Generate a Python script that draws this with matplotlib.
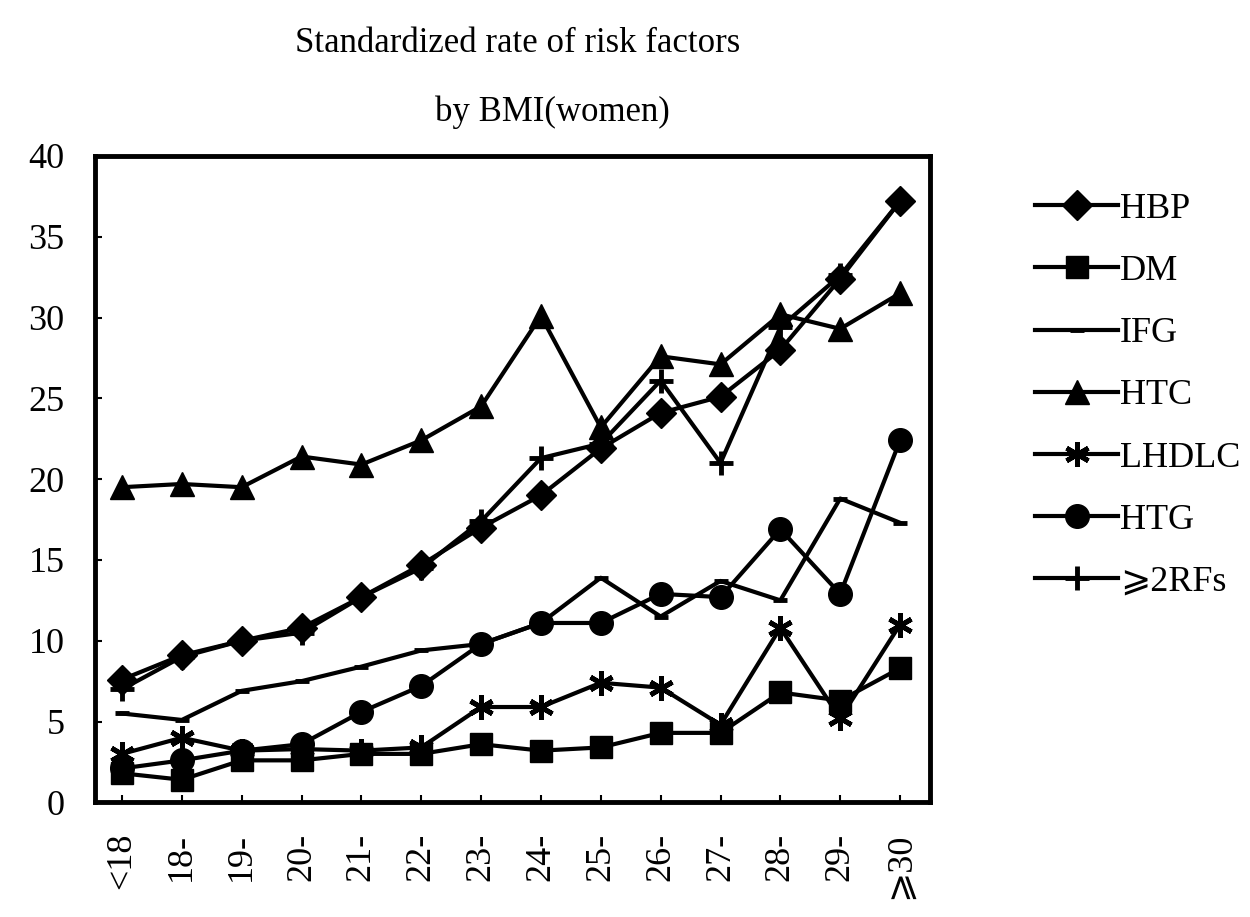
import matplotlib.pyplot as plt

# BMI groups (women)
categories = ["<18", "18-", "19-", "20-", "21-", "22-", "23-", "24-", "25-",
              "26-", "27-", "28-", "29-", "\u2a7e30"]

hbp = [7.6, 9.1, 10.0, 10.8, 12.7, 14.7, 17.0, 19.0, 21.9, 24.1, 25.1, 28.0, 32.4, 37.2]
dm = [1.8, 1.4, 2.6, 2.6, 3.0, 3.0, 3.6, 3.2, 3.4, 4.3, 4.3, 6.8, 6.3, 8.3]
ifg = [5.5, 5.1, 6.9, 7.5, 8.4, 9.4, 9.8, 11.1, 13.9, 11.5, 13.7, 12.5, 18.8, 17.3]
htc = [19.5, 19.7, 19.5, 21.4, 20.9, 22.4, 24.5, 30.1, 23.2, 27.6, 27.1, 30.2, 29.3, 31.5]
lhdlc = [3.0, 4.0, 3.2, 3.3, 3.2, 3.4, 5.9, 5.9, 7.4, 7.1, 4.8, 10.8, 5.2, 11.0]
htg = [2.1, 2.6, 3.2, 3.6, 5.6, 7.2, 9.8, 11.1, 11.1, 12.9, 12.7, 16.9, 12.9, 22.4]
rf2 = [7.0, 9.0, 10.0, 10.5, 12.7, 14.5, 17.4, 21.3, 22.2, 26.1, 21.0, 29.4, 32.6, 37.2]

series = [
  ("HBP", hbp, "D", 15),
  ("DM", dm, "s", 16),
  ("IFG", ifg, "_", 10),
  ("HTC", htc, "^", 17),
  ("LHDLC", lhdlc, (6, 2, 0), 18),
  ("HTG", htg, "o", 17),
  ("\u2a7e2RFs", rf2, "+", 17),
]

plt.rcParams['font.family'] = ['Liberation Serif', 'DejaVu Sans']

fig = plt.figure(figsize=(12.5, 9.17), dpi=100)
ax = fig.add_axes([0.076, 0.125, 0.668, 0.705])

x = list(range(len(categories)))
for name, vals, mk, ms in series:
  mew = 3.5 if mk in ("+", "_", (6, 2, 0)) else 1
  ax.plot(x, vals, color="black", lw=3, marker=mk, markersize=ms,
          markeredgewidth=mew, label=name)

ax.set_xlim(-0.45, 13.5)
ax.set_ylim(0, 40)
ax.set_yticks(range(0, 41, 5))
ax.set_xticks(x)
ax.set_xticklabels(categories, rotation=90)
ax.tick_params(axis="both", direction="in", labelsize=26, width=1.5, length=5)
ax.tick_params(axis="y", pad=22)
ax.tick_params(axis="x", pad=22)
for s in ax.spines.values():
  s.set_linewidth(3.5)

fig.text(0.414, 0.953, "Standardized rate of risk factors", ha="center", va="center", fontsize=25)
fig.text(0.442, 0.878, "by BMI(women)", ha="center", va="center", fontsize=25)

ax.legend(loc="upper left", bbox_to_anchor=(0.828, 0.79), bbox_transform=fig.transFigure,
          frameon=False, fontsize=26, handlelength=2.3, handletextpad=0.05,
          labelspacing=0.8, borderpad=0, borderaxespad=0)

plt.savefig("out.png", dpi=100)
